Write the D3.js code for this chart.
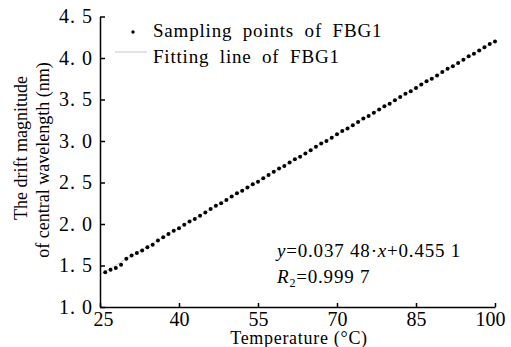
<!DOCTYPE html>
<html>
<head>
<meta charset="utf-8">
<script src="https://d3js.org/d3.v7.min.js"></script>
<style>
  body { margin: 0; background: #fff; }
  svg text { font-family: "Liberation Serif", "Times New Roman", Times, "DejaVu Serif", serif; fill: #000; }
</style>
</head>
<body>
<svg id="chart" width="511" height="347"></svg>
<script>
// temperature (°C) of each sampling point
var temps = d3.range(26, 101);
// drift of central wavelength (nm)
var drift = [
  1.42, 1.45, 1.47, 1.51, 1.58, 1.62, 1.65, 1.68, 1.72, 1.75,
  1.80, 1.84, 1.88, 1.92, 1.95, 1.99, 2.03, 2.06, 2.10, 2.14,
  2.18, 2.22, 2.25, 2.29, 2.33, 2.37, 2.40, 2.44, 2.48, 2.51,
  2.55, 2.59, 2.63, 2.67, 2.70, 2.74, 2.78, 2.81, 2.85, 2.89,
  2.93, 2.97, 3.00, 3.04, 3.08, 3.12, 3.15, 3.19, 3.23, 3.27,
  3.30, 3.34, 3.38, 3.42, 3.45, 3.49, 3.53, 3.57, 3.60, 3.64,
  3.68, 3.72, 3.75, 3.79, 3.83, 3.87, 3.90, 3.94, 3.98, 4.02,
  4.05, 4.09, 4.13, 4.17, 4.20
];
var xTicks = [25, 40, 55, 70, 85, 100];
var yTicks = [1.0, 1.5, 2.0, 2.5, 3.0, 3.5, 4.0, 4.5];
var fitK = 0.03748, fitB = 0.4551;
var legendLabels = ["Sampling points of FBG1", "Fitting line of FBG1"];

var svg = d3.select("#chart");
var x = d3.scaleLinear().domain([25, 100]).range([100, 495]);
var y = d3.scaleLinear().domain([1.0, 4.5]).range([307, 16.5]);

// fitting line (light grey, mostly hidden under the dots)
svg.append("line")
    .attr("x1", x(25)).attr("x2", x(100))
    .attr("y1", y(fitK * 25 + fitB)).attr("y2", y(fitK * 100 + fitB))
    .style("stroke", "#d0d0d0").style("stroke-width", 1);

svg.selectAll("circle.pt")
    .data(temps)
    .enter().append("circle")
    .attr("class", "pt")
    .attr("cx", function(d) { return x(d); })
    .attr("cy", function(d, i) { return y(drift[i]); })
    .attr("r", 2)
    .style("fill", "#000");

// axes
var gx = svg.append("g")
    .attr("transform", "translate(0," + y(1.0) + ")")
    .call(d3.axisBottom(x).tickValues(xTicks).tickSize(-4).tickSizeOuter(0).tickPadding(5));
var gy = svg.append("g")
    .attr("transform", "translate(" + x(25) + ",0)")
    .call(d3.axisLeft(y).tickValues(yTicks).tickSize(-5).tickSizeOuter(0).tickPadding(7)
        .tickFormat(function(d) { return d3.format(".1f")(d).replace(".", ". "); }));

[gx, gy].forEach(function(g) {
    g.attr("font-family", null);
    g.selectAll("path, line").style("stroke", "#000").style("stroke-width", 1.5);
    g.selectAll("text").style("font-size", "20px");
});
gy.selectAll("text").style("letter-spacing", "1px");
gx.selectAll("text").attr("dx", function(d) { return d === 25 ? 3 : d === 100 ? -5 : 0; });

// axis titles
svg.append("text")
    .attr("x", 299).attr("y", 344)
    .attr("text-anchor", "middle")
    .style("font-size", "18px")
    .style("letter-spacing", "0.7px")
    .text("Temperature (°C)");

var ytLines = [["The drift magnitude", 148, 27], ["of central wavelength (nm)", 160, 49]];
svg.selectAll("text.yt")
    .data(ytLines)
    .enter().append("text")
    .attr("class", "yt")
    .attr("transform", function(d) { return "translate(" + d[2] + "," + d[1] + ") rotate(-90)"; })
    .attr("text-anchor", "middle")
    .style("font-size", "18px")
    .text(function(d) { return d[0]; });

// legend
var lg = svg.append("g");
lg.append("circle").attr("cx", 133).attr("cy", 32).attr("r", 1.7).style("fill", "#000");
lg.append("line").attr("x1", 115).attr("x2", 147).attr("y1", 52).attr("y2", 52)
    .style("stroke", "#c8c8c8").style("stroke-width", 1);
lg.selectAll("text.lg")
    .data(legendLabels)
    .enter().append("text")
    .attr("class", "lg")
    .attr("x", 153)
    .attr("y", function(d, i) { return 37 + i * 26; })
    .style("font-size", "19px")
    .style("letter-spacing", "0.8px")
    .style("word-spacing", "5px")
    .text(function(d) { return d; });

// fit equation
var eq = svg.append("text").attr("x", 277).attr("y", 257)
    .style("font-size", "19px").style("letter-spacing", "0.8px");
eq.append("tspan").style("font-style", "italic").text("y");
eq.append("tspan").text("=0.037 48·");
eq.append("tspan").style("font-style", "italic").text("x");
eq.append("tspan").text("+0.455 1");

var r2 = svg.append("text").attr("x", 277).attr("y", 283)
    .style("font-size", "19px").style("letter-spacing", "0.8px");
r2.append("tspan").style("font-style", "italic").text("R");
r2.append("tspan").attr("dy", 4).style("font-size", "12px").text("2");
r2.append("tspan").attr("dy", -4).text("=0.999 7");
</script>
</body>
</html>
